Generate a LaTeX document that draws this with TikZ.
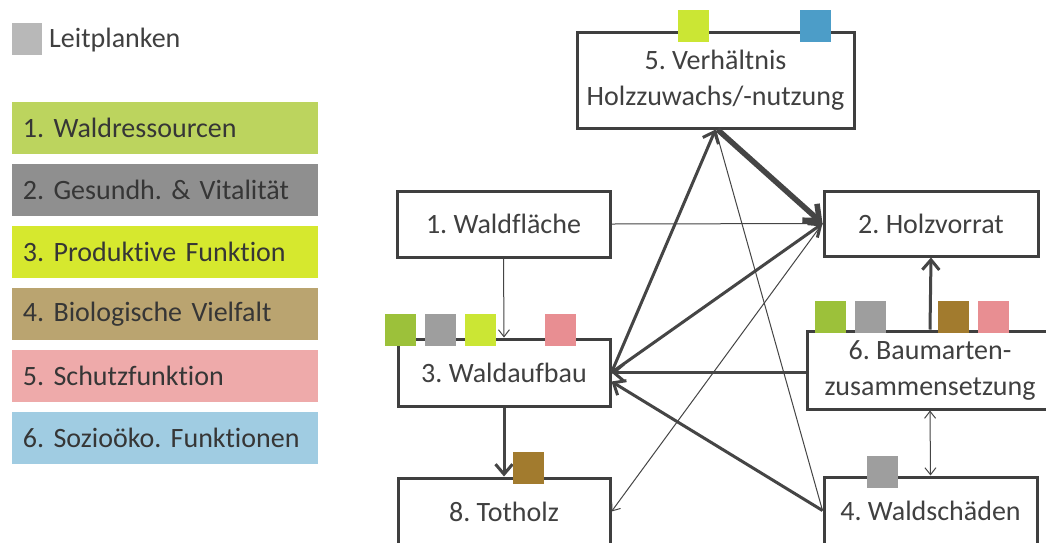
\documentclass[tikz,border=0pt]{standalone}
\usepackage{fontspec}
\setmainfont{Carlito}[Ligatures=NoCommon]
\usetikzlibrary{arrows.meta}
\definecolor{boxc}{HTML}{3F3F3F}
\definecolor{linec}{HTML}{454545}
\definecolor{txt}{HTML}{404040}
\definecolor{lgA}{HTML}{BCD45E}
\definecolor{lgB}{HTML}{8F8F8F}
\definecolor{lgC}{HTML}{D6E82E}
\definecolor{lgD}{HTML}{BAA470}
\definecolor{lgE}{HTML}{EEAAAA}
\definecolor{lgF}{HTML}{A0CCE2}
\definecolor{lgG}{HTML}{B8B8B8}
\definecolor{sqgreen}{HTML}{9CC13A}
\definecolor{sqgray}{HTML}{9E9E9E}
\definecolor{sqyg}{HTML}{CBE634}
\definecolor{sqpink}{HTML}{E88E92}
\definecolor{sqblue}{HTML}{4C9DC8}
\definecolor{sqbrown}{HTML}{A27B2E}
\frenchspacing
\begin{document}
\begin{tikzpicture}[x=1pt,y=-1pt,
  box/.style={draw=boxc, line width=3pt, fill=white, text=txt, align=center, inner sep=0pt,
    font=\fontsize{28}{36}\selectfont},
  legend/.style={minimum height=52pt, text width=284pt, inner xsep=11pt, inner ysep=0pt,
    align=left, text=txt!85!black, font=\fontsize{28}{33}\selectfont},
  tag/.style={minimum width=31pt, minimum height=32pt, inner sep=0pt},
  thinarr/.style={draw=linec, line width=1pt, -{Straight Barb[length=7pt,width=11pt]}},
  thinline/.style={draw=linec, line width=1pt},
  thickarr/.style={draw=linec, line width=3pt, -{Straight Barb[length=10pt,width=17pt]}},
  fatarr/.style={draw=linec, line width=5.5pt, -{Straight Barb[length=13pt,width=22pt]}}
]
\useasboundingbox[fill=white] (0,0) rectangle (1046,542);

% legend
\node[tag, fill=lgG, minimum width=30pt] (lgsq) at (27,39) {};
\node[anchor=west, inner sep=0pt, text=txt, font=\fontsize{28}{33}\selectfont] (lgtxt) at (49,40) {Leitplanken};
\node[legend, fill=lgA] (l1) at (165,128) {1. Waldressourcen};
\node[legend, fill=lgB] (l2) at (165,190) {2. Gesundh. \& Vitalität};
\node[legend, fill=lgC] (l3) at (165,252) {3. Produktive Funktion};
\node[legend, fill=lgD] (l4) at (165,314) {4. Biologische Vielfalt};
\node[legend, fill=lgE] (l5) at (165,376) {5. Schutzfunktion};
\node[legend, fill=lgF] (l6) at (165,438) {6. Sozioöko. Funktionen};

% boxes
\node[box, minimum width=277pt, minimum height=96pt] (verh) at (715.5,80) {5. Verhältnis\\Holzzuwachs/-nutzung};
\node[box, minimum width=213pt, minimum height=66pt] (wf) at (503.5,224) {1. Waldfläche};
\node[box, minimum width=214pt, minimum height=65pt] (hv) at (931,223.5) {2. Holzvorrat};
\node[box, minimum width=212pt, minimum height=67pt] (wa) at (504,372.5) {3. Waldaufbau};
\node[box, minimum width=212pt, minimum height=67pt] (th) at (504,511.5) {8. Totholz};
\node[box, minimum width=246pt, minimum height=78pt] (bm) at (930,370) {6. Baumarten-\\zusammensetzung};
\node[box, minimum width=213pt, minimum height=67pt] (ws) at (930.5,510.5) {4. Waldschäden};

% connectors
\draw[thinarr] (wf.east) -- (hv.west);
\draw[thinarr] (wf.south) -- (wa.north);
\draw[thinline] (ws.west) -- (verh.south);
\draw[thinarr] (hv.west) -- (th.east);
\draw[thinarr, {Straight Barb[length=7pt,width=11pt]}-{Straight Barb[length=7pt,width=11pt]}] (bm.south) -- (ws.north);
\draw[thickarr] (wa.east) -- (verh.south);
\draw[thickarr] (wa.east) -- (hv.west);
\draw[thickarr] (bm.west |- wa.east) -- (wa.east);
\draw[thickarr] (ws.west) -- ([yshift=-9pt]wa.east);
\draw[thickarr] (bm.north) -- (hv.south);
\draw[thickarr] (wa.south) -- (th.north);
\draw[fatarr] ([xshift=2pt]verh.south) -- (hv.west);

% indicator squares
\node[tag, fill=sqyg] (v1) at (693,25.5) {};
\node[tag, fill=sqblue] (v2) at (815.5,25.5) {};
\node[tag, fill=sqgreen] (a1) at (400.5,329.5) {};
\node[tag, fill=sqgray] (a2) at (440.5,329.5) {};
\node[tag, fill=sqyg] (a3) at (480.5,329.5) {};
\node[tag, fill=sqpink] (a4) at (560,329.5) {};
\node[tag, fill=sqbrown] (t1) at (528.5,467.5) {};
\node[tag, fill=sqgreen] (b1) at (830.5,317) {};
\node[tag, fill=sqgray] (b2) at (870,317) {};
\node[tag, fill=sqbrown] (b3) at (953.5,317) {};
\node[tag, fill=sqpink] (b4) at (993.5,317) {};
\node[tag, fill=sqgray] (s1) at (882.5,471.5) {};
\end{tikzpicture}
\end{document}
